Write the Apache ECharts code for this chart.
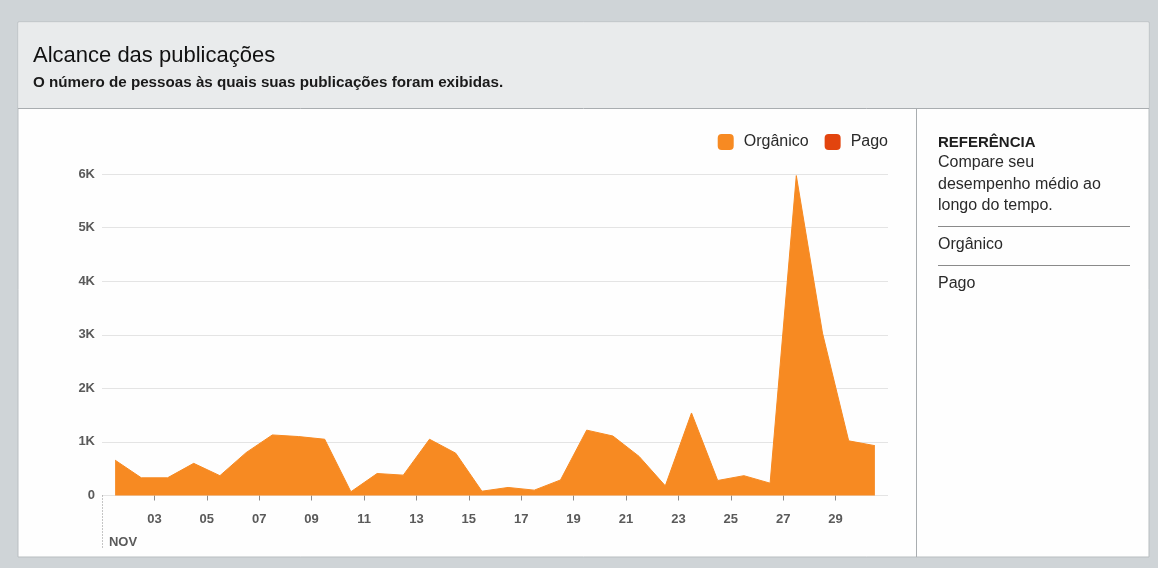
<!DOCTYPE html>
<html>
<head>
<meta charset="utf-8">
<script src="https://cdn.jsdelivr.net/npm/echarts@6/dist/echarts.min.js"></script>
<style>
html,body{margin:0;padding:0;background:#cfd4d7;}
#c{width:1158px;height:568px;}
</style>
</head>
<body>
<div id="c"></div>
<script>
// Data
const days = [1,2,3,4,5,6,7,8,9,10,11,12,13,14,15,16,17,18,19,20,21,22,23,24,25,26,27,28,29,30];
const organicValues = [660,330,330,600,370,800,1130,1100,1050,70,410,380,1050,790,80,150,100,290,1220,1110,730,180,1540,280,370,230,5970,3030,1020,930];
const paidValues = [];
const labelDays = [3,5,7,9,11,13,15,17,19,21,23,25,27,29];
const monthLabel = 'NOV';
const yTicks = [0,1000,2000,3000,4000,5000,6000];

const FONT = '"Liberation Sans", Arial, sans-serif';
const chart = echarts.init(document.getElementById('c'));

const tickVals = labelDays.map(d => d - 1);
const pad = n => (n < 10 ? '0' : '') + n;

chart.setOption({
  animation: false,
  backgroundColor: '#cfd4d7',
  textStyle: { fontFamily: FONT },
  graphic: [
    { type: 'rect', shape: { x: 18, y: 22, width: 1131, height: 535 }, style: { fill: '#fefefe', stroke: '#b9bec1', lineWidth: 1 }, z: -10 },
    { type: 'rect', shape: { x: 18.5, y: 22.5, width: 1130, height: 85.5 }, style: { fill: '#e9ebec' }, z: -9 },
    { type: 'line', shape: { x1: 18, y1: 108.5, x2: 1149, y2: 108.5 }, style: { stroke: '#a9adb0', lineWidth: 1 }, z: -8 },
    { type: 'line', shape: { x1: 916.5, y1: 109, x2: 916.5, y2: 557 }, style: { stroke: '#a9adb0', lineWidth: 1 }, z: -8 },
    { type: 'text', x: 938, y: 135, style: { text: 'REFERÊNCIA', font: 'bold 15px ' + FONT, fill: '#1d1d1d', lineHeight: 16 } },
    { type: 'text', x: 938, y: 152, style: { text: 'Compare seu\ndesempenho médio ao\nlongo do tempo.', font: '16px ' + FONT, fill: '#2a2a2a', lineHeight: 21.5 } },
    { type: 'line', shape: { x1: 938, y1: 226.5, x2: 1130, y2: 226.5 }, style: { stroke: '#8a8a8a', lineWidth: 1 } },
    { type: 'text', x: 938, y: 237, style: { text: 'Orgânico', font: '16px ' + FONT, fill: '#2a2a2a', lineHeight: 16 } },
    { type: 'line', shape: { x1: 938, y1: 265.5, x2: 1130, y2: 265.5 }, style: { stroke: '#8a8a8a', lineWidth: 1 } },
    { type: 'text', x: 938, y: 276, style: { text: 'Pago', font: '16px ' + FONT, fill: '#2a2a2a', lineHeight: 16 } }
  ],
  title: {
    text: 'Alcance das publicações',
    subtext: 'O número de pessoas às quais suas publicações foram exibidas.',
    left: 28, top: 40,
    itemGap: 8,
    textStyle: { fontFamily: FONT, fontSize: 22, fontWeight: 'normal', color: '#111' },
    subtextStyle: { fontFamily: FONT, fontSize: 15.2, fontWeight: 'bold', color: '#1a1a1a' }
  },
  legend: {
    right: 270, top: 134, padding: 0,
    itemWidth: 16, itemHeight: 16, itemGap: 16,
    icon: 'roundRect',
    textStyle: { fontFamily: FONT, fontSize: 16, color: '#2a2a2a', padding: [0, 0, 0, 5] },
    data: ['Orgânico', 'Pago']
  },
  grid: { left: 102, right: 270, top: 174, bottom: 72.5, containLabel: false },
  xAxis: [
    {
      type: 'value', min: 0, max: 30, interval: 2,
      splitLine: { show: false },
      axisLine: { show: false },
      axisTick: { show: true, customValues: tickVals, length: 5, lineStyle: { color: '#8c8c8c' } },
      axisLabel: {
        customValues: [0].concat(tickVals),
        margin: 17,
        fontFamily: FONT, fontSize: 13, fontWeight: 'bold', color: '#5a5a5a',
        formatter: v => v === 0 ? '{nov|' + monthLabel + '}' : pad(Math.round(v) + 1),
        rich: { nov: { fontFamily: FONT, fontSize: 13, fontWeight: 'bold', color: '#5a5a5a', padding: [23, 0, 0, 42] } }
      }
    },
    {
      type: 'value', min: 0, max: 30, position: 'bottom',
      splitLine: { show: false },
      axisLine: { show: false },
      axisLabel: { show: false },
      axisTick: { show: true, customValues: [0], length: 52, lineStyle: { color: '#8c8c8c', type: [1, 2], width: 1 } }
    }
  ],
  yAxis: {
    type: 'value', min: 0, max: 6000, interval: 1000,
    axisLine: { show: false }, axisTick: { show: false },
    splitLine: { lineStyle: { color: '#e4e4e4', width: 1 } },
    axisLabel: {
      margin: 7,
      fontFamily: FONT, fontSize: 13, fontWeight: 'bold', color: '#5a5a5a',
      customValues: yTicks,
      formatter: v => v === 0 ? '0' : (v / 1000) + 'K'
    }
  },
  series: [
    {
      name: 'Orgânico', type: 'line', xAxisIndex: 0,
      data: days.map((d, i) => [d - 0.5, organicValues[i]]),
      symbol: 'none', smooth: false,
      color: '#f78a22',
      lineStyle: { color: '#f78a22', width: 1 },
      areaStyle: { color: '#f78a22', opacity: 1 }
    },
    {
      name: 'Pago', type: 'line', xAxisIndex: 0,
      data: paidValues,
      symbol: 'none',
      color: '#e2440e',
      lineStyle: { color: '#e2440e', width: 1 },
      areaStyle: { color: '#e2440e', opacity: 1 }
    }
  ]
});
</script>
</body>
</html>
